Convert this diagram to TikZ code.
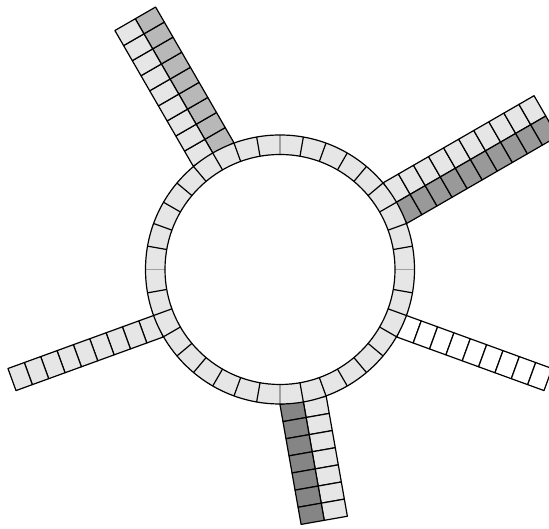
\documentclass[tikz,border=0pt]{standalone}
\usepackage{tikz}
\definecolor{lightcell}{HTML}{E6E6E6}
\definecolor{midcell}{HTML}{B8B8B8}
\definecolor{darkcell}{HTML}{999999}
\definecolor{darkercell}{HTML}{858585}
\definecolor{seamgray}{HTML}{A0A0A0}
\tikzset{
  cellline/.style={draw=black, line width=1.2pt, line join=round},
}
\newcommand{\armcol}[6]{% angle, n, t1, t2, fill, s0
  \begin{scope}[shift={(280,259.5)}, rotate=#1]
    \foreach \k in {1,...,#2}{
      \filldraw[cellline, fill=#5] ({#6+(\k-1)*17.4},#3) rectangle ({#6+\k*17.4},#4);
    }
  \end{scope}
}
\begin{document}
\begin{tikzpicture}[x=1pt,y=1pt]
\useasboundingbox (0,0) rectangle (549,529);
\clip (0,0) rectangle (549,529);
\fill[white] (0,0) rectangle (549,529);
% arms
\armcol{120}{9}{-23.5}{0}{midcell}{132.9}
\armcol{120}{9}{0}{23.5}{lightcell}{132.9}
\armcol{30}{10}{0}{23.5}{lightcell}{132.9}
\armcol{30}{10}{-23.5}{0}{darkcell}{132.9}
\armcol{-80}{7}{0}{23.5}{lightcell}{132.9}
\armcol{-80}{7}{-23.5}{0}{darkercell}{132.9}
\armcol{200}{9}{0}{23.5}{lightcell}{132.9}
\armcol{-20}{9}{-23.5}{0}{white}{132.9}
% ring
\begin{scope}[shift={(280,259.5)}]
  \fill[lightcell, even odd rule] (0,0) circle (134.5) (0,0) circle (115);
  \foreach \a in {0,10,...,350}{
    \draw[line width=1.2pt] (\a:115) -- (\a:134.5);
  }
  \foreach \a in {0,90,180,270}{
    \draw[line width=1.4pt, seamgray] (\a:115) -- (\a:134.5);
  }
  \draw[line width=1.2pt] (0,0) circle (134.5);
  \draw[line width=1.2pt] (0,0) circle (115);
\end{scope}
\end{tikzpicture}
\end{document}
